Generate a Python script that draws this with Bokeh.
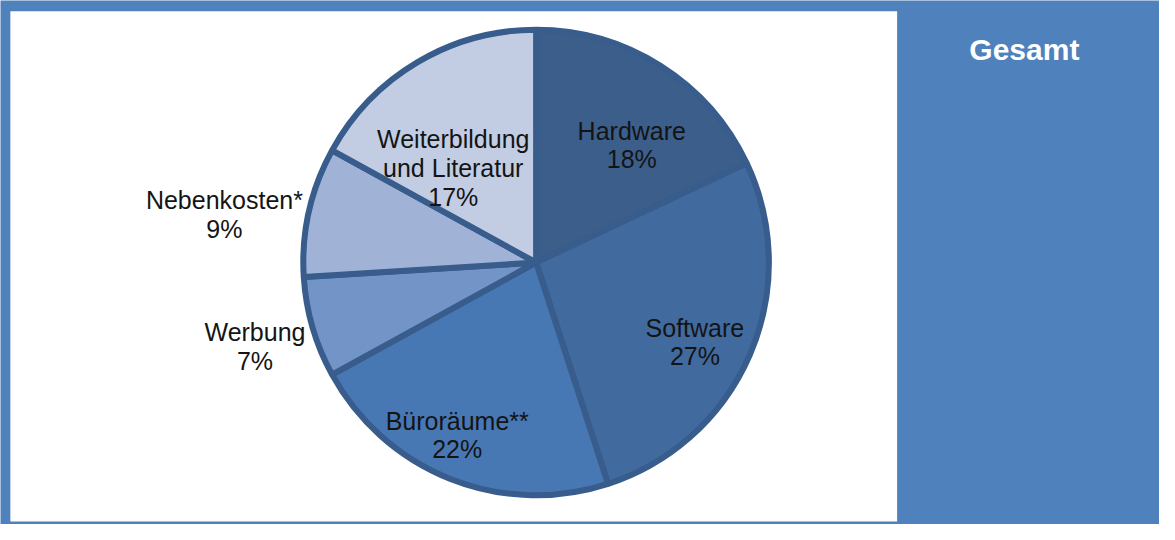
import math
from bokeh.plotting import figure
from bokeh.models import Range1d, ColumnDataSource
from bokeh.core.properties import value
from bokeh.embed import file_html
from bokeh.resources import INLINE

# ---- data ----
categories = ["Hardware", "Software", "Büroräume**", "Werbung", "Nebenkosten*", "Weiterbildung\nund Literatur"]
shares = [18, 27, 22, 7, 9, 17]
title = "Gesamt"

# ---- styles ----
slice_colors = ["#3B5E8B", "#416A9E", "#4878B4", "#7294C7", "#A0B3D6", "#C2CDE3"]
outline_color = "#385C8B"
frame_color = "#4F81BD"
# label anchor (center x, first baseline y) in reference pixels
label_pos = [(640, 134), (704, 337), (463, 433), (258, 342), (227, 206), (459, 143)]
line_gap = 29.5
cx, cy, r = 543, 270, 236

W, H = 1159, 524
p = figure(width=W, height=H, x_range=Range1d(0, 1175), y_range=Range1d(-540, 0),
           output_backend="svg", toolbar_location=None, min_border=0)
p.axis.visible = False
p.grid.visible = False
p.outline_line_color = None
p.background_fill_color = frame_color
p.border_fill_color = frame_color

# white panel
p.quad(left=[10], right=[909], top=[-11], bottom=[-537], fill_color="white", line_color=None)

# pie wedges
total = float(sum(shares))
starts, ends = [], []
acc = 0.0
for v in shares:
    a0 = math.pi / 2 - 2 * math.pi * acc / total
    acc += v
    a1 = math.pi / 2 - 2 * math.pi * acc / total
    starts.append(a0)
    ends.append(a1)

src = ColumnDataSource(dict(x=[cx] * len(shares), y=[-cy] * len(shares),
                            start=starts, end=ends, color=slice_colors))
p.wedge(x="x", y="y", radius=r, start_angle="start", end_angle="end", direction="clock",
        fill_color="color", line_color=outline_color, line_width=6, source=src)

# labels
tx, ty, tt = [], [], []
for cat, v, (lx, ly) in zip(categories, shares, label_pos):
    lines = cat.split("\n") + [f"{v}%"]
    for i, ln in enumerate(lines):
        tx.append(lx)
        ty.append(-(ly + i * line_gap))
        tt.append(ln)
p.text(x=tx, y=ty, text=tt, text_font=value("Liberation Sans"), text_font_size="25px",
       text_align="center", text_baseline="alphabetic", text_color="#141414")

# title in right panel
p.text(x=[1038], y=[-51], text=[title], text_font=value("Liberation Sans"), text_font_size="30px",
       text_font_style="bold", text_align="center", text_baseline="alphabetic", text_color="white")

open("out.html", "w").write(file_html(p, INLINE))
